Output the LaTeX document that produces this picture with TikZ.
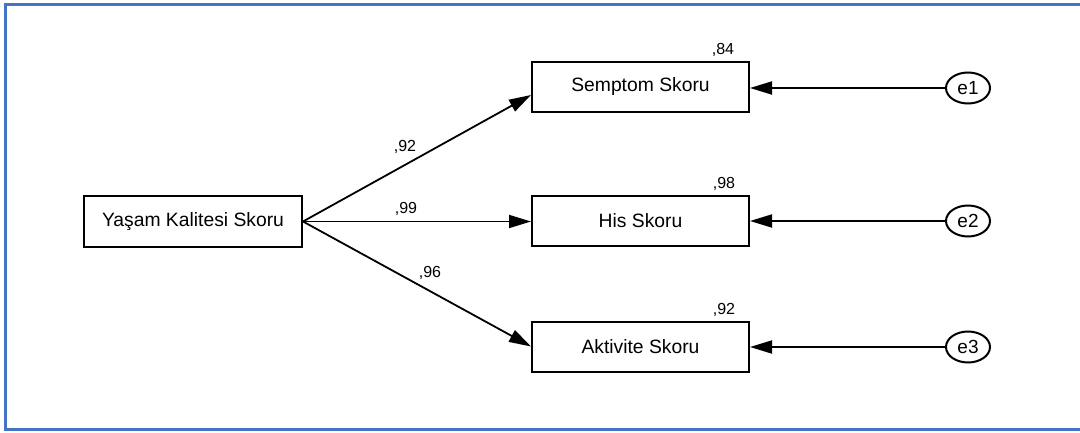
\documentclass[tikz,border=0pt]{standalone}
\usepackage{fontspec}
\setmainfont{Liberation Sans}
\usetikzlibrary{arrows.meta,shapes.geometric}
\definecolor{frameblue}{HTML}{4472C4}
\begin{document}
\begin{tikzpicture}[x=1pt,y=-1pt,
  obsbox/.style={draw=black,line width=2pt,minimum width=217pt,minimum height=50pt,inner sep=0pt,font=\fontsize{19.3}{22}\selectfont},
  errnode/.style={draw=black,ellipse,line width=2pt,minimum width=44pt,minimum height=31pt,inner sep=0pt,font=\fontsize{19}{22}\selectfont},
  lbl/.style={font=\fontsize{16}{18}\selectfont,inner sep=0pt},
  pathline/.style={line width=1.8pt,-{Triangle[length=22pt,width=13pt]}}
]
\useasboundingbox (0,0) rectangle (1080,433);
\fill[white] (0,0) rectangle (1080,433);
\draw[frameblue,line width=3pt] (1082,5) -- (5,5) -- (5,429) -- (1082,429);

\node[obsbox,minimum width=218pt,minimum height=51pt] (yk) at (193,221.5) {Yaşam Kalitesi Skoru};
\node[obsbox] (ss) at (640.5,87) {Semptom Skoru};
\node[obsbox] (hs) at (640.5,221) {His Skoru};
\node[obsbox] (as) at (640.5,346.5) {Aktivite Skoru};

\node[errnode] (e1) at (968,88) {e1};
\node[errnode] (e2) at (968,221) {e2};
\node[errnode] (e3) at (968,347) {e3};

\coordinate (src) at (yk.east);
\coordinate (t1) at ([yshift=-8pt]ss.west);
\coordinate (t3) at ([yshift=0pt]as.west);

\draw[pathline] (src) -- (t1);
\draw[pathline] (src) -- (src -| hs.west);
\draw[pathline] (src) -- (t3);

\draw[pathline] (e1.west) -- (ss.east |- e1.west);
\draw[pathline] (e2.west) -- (hs.east |- e2.west);
\draw[pathline] (e3.west) -- (as.east |- e3.west);

\node[lbl] (l1) at (405,147) {,92};
\node[lbl] (l2) at (406,209) {,99};
\node[lbl] (l3) at (430,273) {,96};

\node[lbl] (r1) at (723,50) {,84};
\node[lbl] (r2) at (724,184) {,98};
\node[lbl] (r3) at (724,310) {,92};
\end{tikzpicture}
\end{document}
